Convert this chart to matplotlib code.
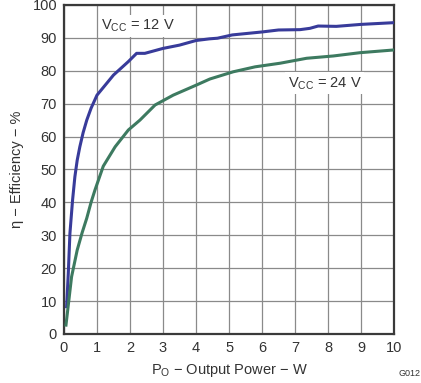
import matplotlib
matplotlib.use("Agg")
import matplotlib.pyplot as plt

plt.rcParams['font.family'] = ['Liberation Sans', 'DejaVu Sans']

# VCC = 12 V
p_12 = [0.08, 0.13, 0.18, 0.26, 0.33, 0.4, 0.48, 0.58, 0.69, 0.82, 1.0, 1.5, 1.95, 2.2, 2.45,
        3.0, 3.5, 4.0, 4.4, 4.65, 5.1, 6.0, 6.5, 7.15, 7.45, 7.7, 8.25, 9.0, 9.95]
eff_12 = [8.3, 18.4, 30.6, 40.7, 47.8, 52.8, 56.9, 61.2, 65.0, 68.6, 72.6, 78.7, 82.8, 85.3, 85.3,
          86.8, 87.8, 89.2, 89.7, 89.9, 90.9, 91.8, 92.4, 92.5, 92.9, 93.6, 93.5, 94.1, 94.6]

# VCC = 24 V
p_24 = [0.06, 0.23, 0.4, 0.55, 0.69, 0.82, 0.94, 1.19, 1.55, 1.95, 2.3, 2.76, 3.31, 4.02,
        4.42, 5.13, 5.79, 6.55, 7.35, 8.16, 8.97, 9.96]
eff_24 = [2.7, 17.4, 25.5, 30.8, 35.2, 40.0, 43.8, 51.0, 56.9, 62.0, 65.0, 69.6, 72.6, 75.7,
          77.5, 79.7, 81.2, 82.3, 83.8, 84.5, 85.5, 86.3]

fig = plt.figure(figsize=(4.21, 3.83), dpi=100)
ax = fig.add_axes([0.152, 0.128, 0.784, 0.859])

ax.plot(p_12, eff_12, color='#383b9a', lw=2.2, zorder=3)
ax.plot(p_24, eff_24, color='#3d7a60', lw=2.2, zorder=3)

ax.set_xlim(0, 10)
ax.set_ylim(0, 100)
ax.set_xticks(range(0, 11))
ax.set_yticks(range(0, 101, 10))
ax.grid(True, color='#8a8a8a', lw=0.9)
ax.set_axisbelow(True)
for s in ax.spines.values():
    s.set_color('#3a3a3a')
    s.set_linewidth(1.6)
ax.tick_params(length=0, labelsize=10.5, colors='#333333', pad=5)

ax.set_xlabel(r'P$_\mathregular{O}$ − Output Power − W', fontsize=10.5, color='#333333', labelpad=5)
ax.set_ylabel('η − Efficiency − %', fontsize=10.5, color='#333333', labelpad=6)

box = dict(facecolor='white', edgecolor='none', pad=2)
ax.text(2.25, 93.7, r'V$_\mathregular{CC}$ = 12 V', fontsize=10.5, color='#333333',
        ha='center', va='center', bbox=box, zorder=4)
ax.text(7.9, 76.2, r'V$_\mathregular{CC}$ = 24 V', fontsize=10.5, color='#333333',
        ha='center', va='center', bbox=box, zorder=4)

fig.text(0.998, 0.012, 'G012', fontsize=6.5, color='#333333', ha='right', va='bottom')

fig.savefig('out.png', dpi=100)
